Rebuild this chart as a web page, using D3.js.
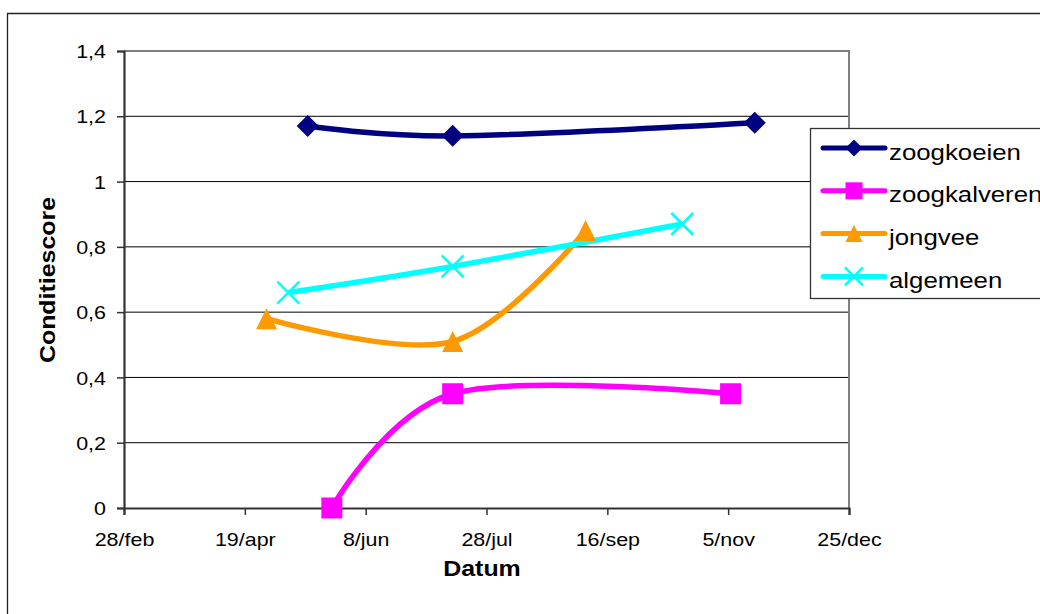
<!DOCTYPE html>
<html>
<head>
<meta charset="utf-8">
<script src="https://cdn.jsdelivr.net/npm/d3@7"></script>
<style>
  html, body { margin: 0; padding: 0; background: #fff; }
  svg { display: block; font-family: "Liberation Sans", Arial, sans-serif; }
</style>
</head>
<body>
<svg id="chart" width="1040" height="614"></svg>
<script>
// Series: measurement dates and condition scores
const seriesNames = ["zoogkoeien", "zoogkalveren", "jongvee", "algemeen"];
const koeienDates = ["2007-05-15", "2007-07-14", "2007-11-16"];
const koeienValues = [1.17, 1.14, 1.18];
const kalverenDates = ["2007-05-25", "2007-07-14", "2007-11-06"];
const kalverenValues = [0, 0.35, 0.35];
const jongveeDates = ["2007-04-28", "2007-07-14", "2007-09-07"];
const jongveeValues = [0.58, 0.51, 0.85];
const algemeenDates = ["2007-05-07", "2007-07-14", "2007-10-17"];
const algemeenValues = [0.66, 0.74, 0.87];

// Axis ticks
const xTickDates = ["2007-02-28", "2007-04-19", "2007-06-08", "2007-07-28", "2007-09-16", "2007-11-05", "2007-12-25"];
const xTickLabels = ["28/feb", "19/apr", "8/jun", "28/jul", "16/sep", "5/nov", "25/dec"];
const yTicks = [0, 0.2, 0.4, 0.6, 0.8, 1, 1.2, 1.4];
const yTickLabels = ["0", "0,2", "0,4", "0,6", "0,8", "1", "1,2", "1,4"];

const parse = d3.utcParse("%Y-%m-%d");
const colors = ["#000080", "#FF00FF", "#FF9900", "#00FFFF"];
const markers = ["diamond", "square", "triangle", "cross"];
const seriesDates = [koeienDates, kalverenDates, jongveeDates, algemeenDates];
const seriesValues = [koeienValues, kalverenValues, jongveeValues, algemeenValues];
const series = seriesNames.map((name, i) => ({
  name, color: colors[i], marker: markers[i],
  points: seriesDates[i].map((d, j) => ({ date: parse(d), value: seriesValues[i][j] }))
}));

const svg = d3.select("#chart");
const plot = { left: 124, right: 849, top: 51, bottom: 508 };
const SX = 1.16; // horizontal stretch of the lettering

const x = d3.scaleUtc()
  .domain([parse(xTickDates[0]), parse(xTickDates[xTickDates.length - 1])])
  .range([plot.left, plot.right]);
const y = d3.scaleLinear().domain([0, 1.4]).range([plot.bottom, plot.top]);

// Outer chart frame (top and left edges visible)
svg.append("path")
  .attr("d", `M7.5,620 V13.5 H1050`)
  .attr("fill", "none").attr("stroke", "#222").attr("stroke-width", 1.3);

// Horizontal gridlines
svg.append("g").selectAll("line")
  .data(yTicks.filter(v => v > 0 && v < 1.4))
  .join("line")
  .attr("x1", plot.left).attr("x2", plot.right)
  .attr("y1", d => y(d)).attr("y2", d => y(d))
  .attr("stroke", "#000").attr("stroke-width", 1);

// Plot area top and right edges
svg.append("path")
  .attr("d", `M${plot.left},${y(1.4)} H${plot.right} V${plot.bottom}`)
  .attr("fill", "none").attr("stroke", "#808080").attr("stroke-width", 2);

// Y axis
const yAxis = svg.append("g")
  .attr("transform", `translate(${plot.left},0)`)
  .call(d3.axisLeft(y).tickValues(yTicks).tickSize(7)
    .tickFormat((d, i) => yTickLabels[i]));
yAxis.select(".domain").attr("stroke", "#333").attr("stroke-width", 2.2);
yAxis.selectAll(".tick line").attr("stroke", "#333").attr("stroke-width", 1.5);
yAxis.selectAll(".tick text")
  .attr("x", null).attr("dy", "0.36em")
  .attr("transform", `translate(-18,0) scale(${SX},1)`)
  .attr("text-anchor", "end")
  .attr("font-family", "Liberation Sans, Arial, sans-serif")
  .attr("font-size", 18.5).attr("fill", "#000");

// X axis
const xAxis = svg.append("g")
  .attr("transform", `translate(0,${plot.bottom})`)
  .call(d3.axisBottom(x).tickValues(xTickDates.map(parse)).tickSize(7)
    .tickFormat((d, i) => xTickLabels[i]));
xAxis.select(".domain").attr("stroke", "#333").attr("stroke-width", 2.2);
xAxis.selectAll(".tick line").attr("stroke", "#333").attr("stroke-width", 1.5);
xAxis.selectAll(".tick text")
  .attr("y", 38).attr("dy", null)
  .attr("transform", `scale(${SX},1)`)
  .attr("font-family", "Liberation Sans, Arial, sans-serif")
  .attr("font-size", 18.5).attr("fill", "#000");

// Axis titles
svg.append("text")
  .attr("transform", `translate(482,576) scale(${SX},1)`)
  .attr("text-anchor", "middle").attr("font-weight", "bold").attr("font-size", 21.5)
  .text("Datum");
svg.append("text")
  .attr("transform", `translate(55,280) rotate(-90) scale(1.16,1)`)
  .attr("text-anchor", "middle").attr("font-weight", "bold").attr("font-size", 21.5)
  .text("Conditiescore");

// Marker drawing
function markerPath(type, s) {
  const p = d3.path();
  const h = s / 2;
  if (type === "diamond") {
    p.moveTo(0, -h); p.lineTo(h, 0); p.lineTo(0, h); p.lineTo(-h, 0); p.closePath();
  } else if (type === "square") {
    p.rect(-h, -h, s, s);
  } else if (type === "triangle") {
    p.moveTo(0, -h); p.lineTo(h, h); p.lineTo(-h, h); p.closePath();
  } else {
    p.moveTo(-h, -h); p.lineTo(h, h); p.moveTo(h, -h); p.lineTo(-h, h);
  }
  return p.toString();
}
function drawMarker(g, type, color, s) {
  const path = g.append("path").attr("d", markerPath(type, s));
  if (type === "cross") path.attr("fill", "none").attr("stroke", color).attr("stroke-width", 2.6);
  else path.attr("fill", color);
}

// Smoothed series lines
const line = d3.line()
  .x(d => x(d.date)).y(d => y(d.value))
  .curve(d3.curveCardinal.tension(0));

const sizes = { diamond: 22, square: 21, triangle: 21, cross: 22 };
series.forEach(s => {
  svg.append("path")
    .datum(s.points)
    .attr("d", line)
    .attr("fill", "none").attr("stroke", s.color)
    .attr("stroke-width", 5.5).attr("stroke-linejoin", "round");
});
series.forEach(s => {
  s.points.forEach(pt => {
    const g = svg.append("g").attr("transform", `translate(${x(pt.date)},${y(pt.value)})`);
    drawMarker(g, s.marker, s.color, sizes[s.marker]);
  });
});

// Legend
const legend = svg.append("g");
legend.append("rect")
  .attr("x", 810.5).attr("y", 128.5).attr("width", 260).attr("height", 170)
  .attr("fill", "#fff").attr("stroke", "#333").attr("stroke-width", 1.3);
const legendSizes = { diamond: 17, square: 17, triangle: 17, cross: 18 };
series.forEach((s, i) => {
  const cy = 148 + i * 42.8;
  const row = legend.append("g").attr("transform", `translate(0,${cy})`);
  row.append("line")
    .attr("x1", 823).attr("x2", 885).attr("y1", 0).attr("y2", 0)
    .attr("stroke", s.color).attr("stroke-width", 5).attr("stroke-linecap", "round");
  const m = row.append("g").attr("transform", "translate(854,0)");
  drawMarker(m, s.marker, s.color, legendSizes[s.marker]);
  row.append("text")
    .attr("transform", `translate(889,11.5) scale(1.2,1)`)
    .attr("font-size", 21.5).attr("fill", "#000")
    .text(s.name);
});
</script>
</body>
</html>
